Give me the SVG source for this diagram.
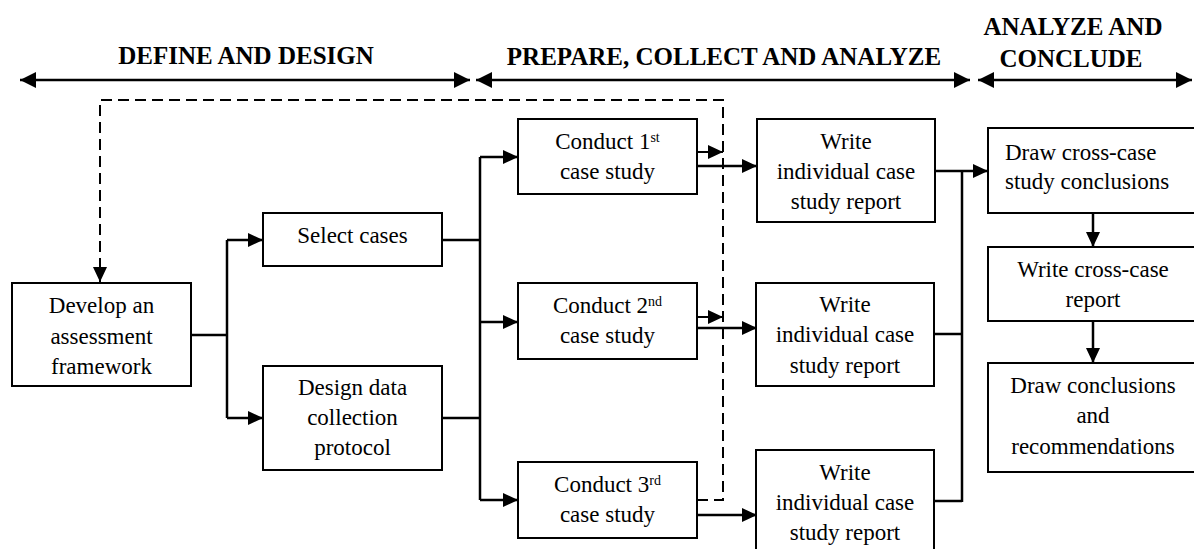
<svg xmlns="http://www.w3.org/2000/svg" width="1194" height="549" viewBox="0 0 1194 549">
<defs>
<marker id="ah" markerUnits="userSpaceOnUse" markerWidth="15" markerHeight="15" viewBox="0 0 15 15" refX="15" refY="7.5" orient="auto"><path d="M0,0.5 L15,7.5 L0,14.5 Z" fill="#000"/></marker>
<marker id="big" markerUnits="userSpaceOnUse" markerWidth="16" markerHeight="18" viewBox="0 0 16 18" refX="16" refY="9" orient="auto-start-reverse"><path d="M0,1 L16,9 L0,17 Z" fill="#000"/></marker>
</defs>
<style>
.box{fill:#fff;stroke:#000;stroke-width:2}
.t{font-family:"Liberation Serif",serif;font-size:23px;fill:#000;text-anchor:middle}
.tl{font-family:"Liberation Serif",serif;font-size:23px;fill:#000}
.h{font-family:"Liberation Serif",serif;font-size:25px;font-weight:bold;fill:#000;text-anchor:middle}
.c{fill:none;stroke:#000;stroke-width:2.5}
.d{fill:none;stroke:#000;stroke-width:2;stroke-dasharray:11,6}
.sup{font-size:14px}
</style>
<g id="phases">
<text class="h" x="246" y="64">DEFINE AND DESIGN</text>
<text class="h" x="724" y="65">PREPARE, COLLECT AND ANALYZE</text>
<text class="h" x="1073" y="35">ANALYZE AND</text>
<text class="h" x="1071" y="67">CONCLUDE</text>
<line class="c" x1="20" y1="80" x2="470" y2="80" marker-start="url(#big)" marker-end="url(#big)"/>
<line class="c" x1="476" y1="80" x2="970" y2="80" marker-start="url(#big)" marker-end="url(#big)"/>
<line class="c" x1="978" y1="80" x2="1192" y2="80" marker-start="url(#big)" marker-end="url(#big)"/>
</g>
<g id="connectors">
<path class="d" d="M697,500 H723 V100 H100 V282" marker-end="url(#ah)"/>
<line class="d" x1="697" y1="152" x2="723" y2="152" marker-end="url(#ah)"/>
<line class="d" x1="697" y1="317" x2="723" y2="317" marker-end="url(#ah)"/>
<path class="c" d="M191,335 H227"/>
<path class="c" d="M227,240 V418"/>
<path class="c" d="M227,240 H263" marker-end="url(#ah)"/>
<path class="c" d="M227,418 H263" marker-end="url(#ah)"/>
<path class="c" d="M442,240 H480"/>
<path class="c" d="M442,418 H480"/>
<path class="c" d="M480,157 V500"/>
<path class="c" d="M480,157 H518" marker-end="url(#ah)"/>
<path class="c" d="M480,322 H518" marker-end="url(#ah)"/>
<path class="c" d="M480,500 H518" marker-end="url(#ah)"/>
<path class="c" d="M697,166 H757" marker-end="url(#ah)"/>
<path class="c" d="M697,328 H757" marker-end="url(#ah)"/>
<path class="c" d="M697,515 H757" marker-end="url(#ah)"/>
<path class="c" d="M935,171 H962"/>
<path class="c" d="M934,334 H962"/>
<path class="c" d="M934,501 H962"/>
<path class="c" d="M962,171 V502"/>
<path class="c" d="M962,171 H988" marker-end="url(#ah)"/>
<path class="c" d="M1093,213 V247" marker-end="url(#ah)"/>
<path class="c" d="M1093,321 V363" marker-end="url(#ah)"/>
</g>
<g id="develop">
<rect class="box" x="12" y="283" width="179" height="103"/>
<text class="t" x="101.5" y="313">Develop an</text>
<text class="t" x="101.5" y="344">assessment</text>
<text class="t" x="101.5" y="374">framework</text>
</g>
<g id="select">
<rect class="box" x="263" y="213" width="179" height="53"/>
<text class="t" x="352.5" y="243">Select cases</text>
</g>
<g id="design">
<rect class="box" x="263" y="366" width="179" height="104"/>
<text class="t" x="352.5" y="395">Design data</text>
<text class="t" x="352.5" y="425">collection</text>
<text class="t" x="352.5" y="455">protocol</text>
</g>
<g id="conduct1">
<rect class="box" x="518" y="119" width="179" height="75"/>
<text class="t" x="607.5" y="149">Conduct 1<tspan class="sup" dy="-7">st</tspan></text>
<text class="t" x="607.5" y="179">case study</text>
</g>
<g id="conduct2">
<rect class="box" x="518" y="283" width="179" height="76"/>
<text class="t" x="607.5" y="313">Conduct 2<tspan class="sup" dy="-7">nd</tspan></text>
<text class="t" x="607.5" y="343">case study</text>
</g>
<g id="conduct3">
<rect class="box" x="518" y="462" width="179" height="76"/>
<text class="t" x="607.5" y="492">Conduct 3<tspan class="sup" dy="-7">rd</tspan></text>
<text class="t" x="607.5" y="522">case study</text>
</g>
<g id="write1">
<rect class="box" x="757" y="119" width="178" height="103"/>
<text class="t" x="846" y="149">Write</text>
<text class="t" x="846" y="179">individual case</text>
<text class="t" x="846" y="209">study report</text>
</g>
<g id="write2">
<rect class="box" x="756" y="283" width="178" height="103"/>
<text class="t" x="845" y="312">Write</text>
<text class="t" x="845" y="342">individual case</text>
<text class="t" x="845" y="373">study report</text>
</g>
<g id="write3">
<rect class="box" x="756" y="450" width="178" height="110"/>
<text class="t" x="845" y="480">Write</text>
<text class="t" x="845" y="510">individual case</text>
<text class="t" x="845" y="540">study report</text>
</g>
<g id="crossconclusions">
<rect class="box" x="988" y="128" width="220" height="85"/>
<text class="tl" x="1005" y="160">Draw cross-case</text>
<text class="tl" x="1005" y="189">study conclusions</text>
</g>
<g id="crossreport">
<rect class="box" x="988" y="247" width="220" height="74"/>
<text class="t" x="1093" y="277">Write cross-case</text>
<text class="t" x="1093" y="307">report</text>
</g>
<g id="recommendations">
<rect class="box" x="988" y="363" width="220" height="109"/>
<text class="t" x="1093" y="393">Draw conclusions</text>
<text class="t" x="1093" y="423">and</text>
<text class="t" x="1093" y="454">recommendations</text>
</g>
</svg>
